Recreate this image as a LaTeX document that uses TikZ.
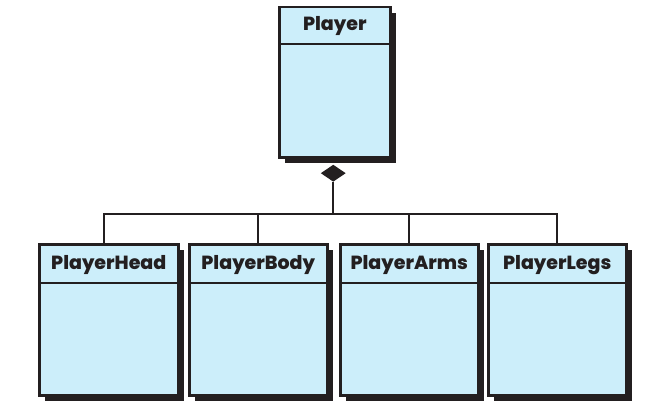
\documentclass[tikz,border=0pt]{standalone}
\usepackage{fontspec}
\setmainfont{Poppins}[BoldFont={Poppins ExtraBold}]
\usetikzlibrary{shapes.geometric}
\definecolor{ClassBlue}{RGB}{204,238,250}
\definecolor{InkBlack}{RGB}{35,31,32}

\begin{document}
\begin{tikzpicture}[x=1pt, y=-1pt,
  classbox/.style={draw=InkBlack, fill=ClassBlue, line width=2.5pt, anchor=north west,
    minimum width=138pt, minimum height=151pt, inner sep=0pt,
    preaction={fill=InkBlack, transform canvas={shift={(6pt,-6pt)}}}},
  classname/.style={anchor=base, font=\fontsize{19}{22}\selectfont\bfseries, text=InkBlack, inner sep=0pt},
  link/.style={draw=InkBlack, line width=2pt}]
\pgfmathsetmacro{\yt}{243} % top of the part boxes
\pgfmathsetmacro{\hd}{40} % height of the name compartment

\useasboundingbox (0,0) rectangle (666,412); %page

% whole class
\node[classbox, minimum width=111pt, minimum height=150pt] (player) at (278,6) {};
\draw[link, line width=2.5pt] ([yshift=-38pt]player.north west) -- ([yshift=-38pt]player.north east);
\node[classname] at ([yshift=-25pt]player.north) {Player};
\node[diamond, fill=InkBlack, inner sep=0pt, minimum width=25pt, minimum height=17pt, anchor=north] (agg) at ([xshift=-1.5pt, yshift=-6pt]player.south) {};

% part classes
\node[classbox, minimum width=139pt] (head) at (38,\yt) {};
\node[classbox] (body) at (188,\yt) {};
\node[classbox] (arms) at (339,\yt) {};
\node[classbox] (legs) at (487,\yt) {};

\foreach \part/\name in {head/PlayerHead, body/PlayerBody, arms/PlayerArms, legs/PlayerLegs}{
  \draw[link, line width=2.5pt] ([yshift=-\hd pt]\part.north west) -- ([yshift=-\hd pt]\part.north east); % divider
  \node[classname] at ([yshift=-26pt]\part.north) {\name};
}

% composition links
\coordinate (bus) at (agg.south |- 0,214);
\draw[link] (agg.south) -- (bus);
\draw[link] (bus) -| ([xshift=-5pt]head.north);
\draw[link] (bus) -| (body.north);
\draw[link] (bus) -| (arms.north);
\draw[link] (bus) -| (legs.north);

\end{tikzpicture}
\end{document}
